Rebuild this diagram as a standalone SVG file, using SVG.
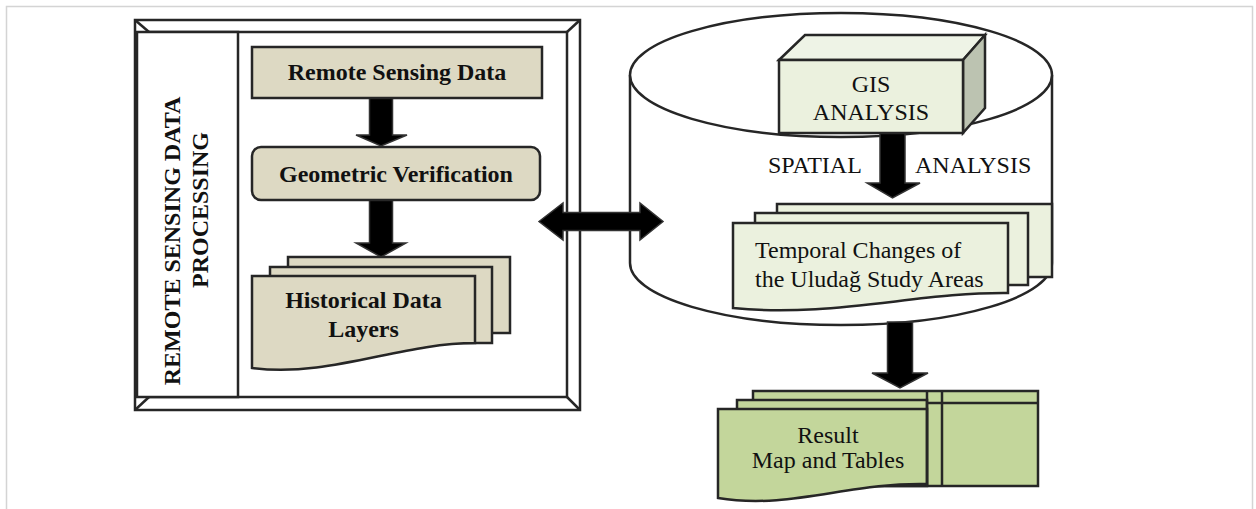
<svg xmlns="http://www.w3.org/2000/svg" width="1256" height="509" viewBox="0 0 1256 509">
<style>
.ln{stroke:#262626;stroke-width:2.5;stroke-linejoin:miter}
.wh{fill:#ffffff}
.tan{fill:#ddd9c3}
.lg{fill:#ebf1de}
.gr{fill:#c3d69b}
.arr{fill:#000000;stroke:#333333;stroke-width:1.5;stroke-linejoin:miter}
.tb{font-family:"Liberation Serif","Times New Roman",serif;font-weight:bold;font-size:24px;fill:#111111}
.tr{font-family:"Liberation Serif","Times New Roman",serif;font-size:24px;fill:#111111}
</style>
<rect x="6.5" y="6.5" width="1246" height="520" fill="#ffffff" stroke="#d4d4d4" stroke-width="1.5"/>

<g id="frame">
  <rect class="ln wh" x="135" y="20" width="445" height="390"/>
  <rect class="ln wh" x="149" y="32" width="418" height="365"/>
  <line class="ln" x1="135" y1="20" x2="149" y2="32"/>
  <line class="ln" x1="580" y1="20" x2="567" y2="32"/>
  <line class="ln" x1="580" y1="410" x2="567" y2="397"/>
  <line class="ln" x1="135" y1="410" x2="149" y2="397"/>
</g>

<g id="sidebar">
  <rect class="ln wh" x="137" y="32" width="101" height="365"/>
  <text class="tb" text-anchor="middle" transform="translate(180,241) rotate(-90)">REMOTE SENSING DATA</text>
  <text class="tb" text-anchor="middle" transform="translate(208,210) rotate(-90)">PROCESSING</text>
</g>

<g id="cylinder">
  <path class="ln wh" d="M630,75 L630,263 A211,62 0 0 0 1052,263 L1052,75"/>
  <ellipse class="ln wh" cx="841" cy="75" rx="211" ry="62"/>
</g>

<g id="connectors">
  <polygon class="arr" points="369.5,98 392.5,98 392.5,135 407,135 381,146 356,135 369.5,135"/>
  <polygon class="arr" points="369.5,200 392.5,200 392.5,243 406,243 381,257 356,243 369.5,243"/>
  <polygon class="arr" points="880,133 905,133 905,183 920,183 892.5,198 867,183 880,183"/>
  <polygon class="arr" points="887.5,322 912.5,322 912.5,373 928,373 900,388 872,373 887.5,373"/>
  <polygon class="arr" points="539,221.5 563,203 563,212.5 640,212.5 640,203 663,221.5 640,240 640,230.5 563,230.5 563,240"/>
</g>

<g id="remote-sensing-data">
  <rect class="ln tan" x="252" y="47" width="290" height="51"/>
  <text class="tb" x="397" y="80" text-anchor="middle">Remote Sensing Data</text>
</g>

<g id="geometric-verification">
  <rect class="ln tan" x="252" y="147" width="288" height="53" rx="9" ry="9"/>
  <text class="tb" x="396" y="182" text-anchor="middle">Geometric Verification</text>
</g>

<g id="historical-data-layers">
  <rect class="ln tan" x="288" y="257" width="222" height="76"/>
  <rect class="ln tan" x="270" y="267" width="222" height="76"/>
  <path class="ln tan" d="M252,276 H475 V343 C400,343 330,378 252,368 Z"/>
  <text class="tb" x="363.5" y="308" text-anchor="middle">Historical Data</text>
  <text class="tb" x="363.5" y="337" text-anchor="middle">Layers</text>
</g>

<g id="gis-analysis">
  <polygon class="ln" fill="#eef3e6" points="779,60 805,35 985,35 963,60"/>
  <polygon class="ln" fill="#bcc3b1" points="963,60 985,35 985,108 963,133"/>
  <rect class="ln lg" x="779" y="60" width="184" height="73"/>
  <text class="tr" x="871" y="92" text-anchor="middle">GIS</text>
  <text class="tr" x="871" y="120" text-anchor="middle">ANALYSIS</text>
</g>

<g id="spatial-analysis-label">
  <text class="tr" x="768" y="173">SPATIAL</text>
  <text class="tr" x="915" y="173">ANALYSIS</text>
</g>

<g id="temporal-changes">
  <rect class="ln lg" x="777" y="204" width="275" height="73"/>
  <rect class="ln lg" x="755" y="213" width="273" height="72"/>
  <path class="ln lg" d="M733,223 H1008 V293 C920,292 830,318 733,308 Z"/>
  <text class="tr" x="755" y="258">Temporal Changes of</text>
  <text class="tr" x="755" y="287">the Uludağ Study Areas</text>
</g>

<g id="result-map-tables">
  <rect class="ln gr" x="753" y="391" width="285" height="95"/>
  <rect class="ln gr" x="737" y="400" width="190" height="86"/>
  <path class="ln gr" d="M718,409 H927 V484 C850,482 790,510 718,498 Z"/>
  <line class="ln" x1="927" y1="391" x2="927" y2="486"/>
  <line class="ln" x1="942" y1="391" x2="942" y2="486"/>
  <line class="ln" x1="927" y1="403" x2="1038" y2="403"/>
  <text class="tr" x="828" y="443" text-anchor="middle">Result</text>
  <text class="tr" x="828" y="468" text-anchor="middle">Map and Tables</text>
</g>
</svg>
